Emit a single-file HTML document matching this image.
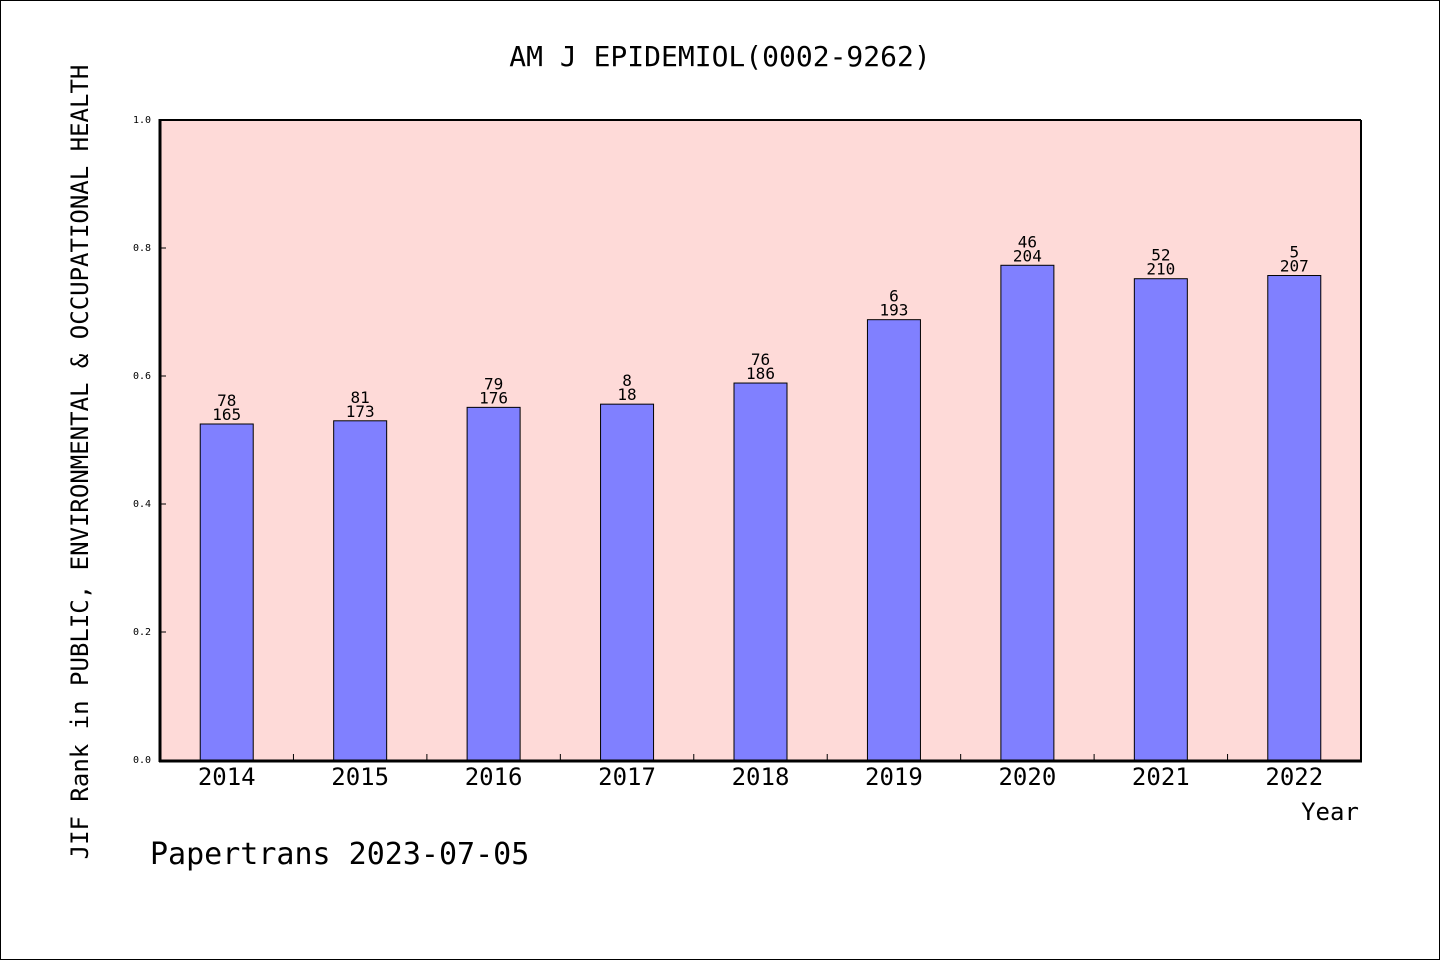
<!DOCTYPE html>
<html><head><meta charset="utf-8"><style>
body{margin:0;background:#fff}
svg{display:block}
text{font-family:"DejaVu Sans Mono","Liberation Mono",monospace;fill:#000}
</style></head><body>
<svg id="chart" width="1440" height="960" viewBox="0 0 1440 960" xmlns="http://www.w3.org/2000/svg">
<rect x="0.5" y="0.5" width="1439" height="959" fill="#fff" stroke="#000" stroke-width="1"/>
<text x="720" y="66" text-anchor="middle" font-size="28">AM J EPIDEMIOL(0002-9262)</text>
<rect x="160" y="120" width="1201" height="640" fill="#fedad8"/>
<g id="ticks"></g>
<g id="bars"></g>
<line x1="160" y1="120" x2="1361" y2="120" stroke="#000" stroke-width="2"/>
<line x1="1361" y1="120" x2="1361" y2="761" stroke="#000" stroke-width="2"/>
<line x1="160" y1="119" x2="160" y2="762" stroke="#000" stroke-width="3"/>
<line x1="159" y1="761" x2="1362" y2="761" stroke="#000" stroke-width="3"/>
<text x="1330" y="820" text-anchor="middle" font-size="24">Year</text>
<text transform="translate(88,462) rotate(-90)" text-anchor="middle" font-size="24">JIF Rank in PUBLIC, ENVIRONMENTAL &amp; OCCUPATIONAL HEALTH</text>
<text x="150" y="864" font-size="30">Papertrans 2023-07-05</text>
</svg>
<script>
const categories=["2014","2015","2016","2017","2018","2019","2020","2021","2022"];
const values=[0.525,0.530,0.551,0.556,0.589,0.688,0.773,0.752,0.757];
const rankLabels=["78","81","79","8","76","6","46","52","5"];
const totalLabels=["165","173","176","18","186","193","204","210","207"];
const yTicks=[0,0.2,0.4,0.6,0.8,1.0];
const yTickLabels=["0.0","0.2","0.4","0.6","0.8","1.0"];
const NS="http://www.w3.org/2000/svg";
const X0=160,X1=1361,Y0=760,Y1=120;
const slot=(X1-X0)/categories.length;
const xc=i=>X0+slot*(i+0.5);
const y=v=>Y0-(v-0)/(1-0)*(Y0-Y1);
function mk(tag,attrs,parent){const e=document.createElementNS(NS,tag);for(const k in attrs)e.setAttribute(k,attrs[k]);parent.appendChild(e);return e;}
const tg=document.getElementById('ticks'),bg=document.getElementById('bars');
yTicks.forEach((t,i)=>{
 const l=mk('line',{x1:X0,x2:X0+6,y1:y(t),y2:y(t),stroke:'#000','stroke-width':1},tg);
 
 
 const tx=mk('text',{x:X0-9,y:y(t)+3,'text-anchor':'end','font-size':10},tg);
 tx.textContent=yTickLabels[i];
 
 
});
for(let i=1;i<categories.length;i++){
 const l=mk('line',{x1:X0+slot*i,x2:X0+slot*i,y1:Y0,y2:Y0-6,stroke:'#000','stroke-width':1},tg);
 
 
}
const bw=53;
categories.forEach((c,i)=>{
 const top=y(values[i]);
 const r=mk('rect',{x:xc(i)-bw/2,y:top,width:bw,height:Y0-top,fill:'#8080ff',stroke:'#000','stroke-width':1},bg);
 
 
 const t1=mk('text',{x:xc(i),y:top-4,'text-anchor':'middle','font-size':16},bg);
 t1.textContent=totalLabels[i];
 
 
 const t2=mk('text',{x:xc(i),y:top-18,'text-anchor':'middle','font-size':16},bg);
 t2.textContent=rankLabels[i];
 
 
 const xl=mk('text',{x:xc(i),y:785,'text-anchor':'middle','font-size':24},bg);
 xl.textContent=c;
 
 
});
</script>
</body></html>
